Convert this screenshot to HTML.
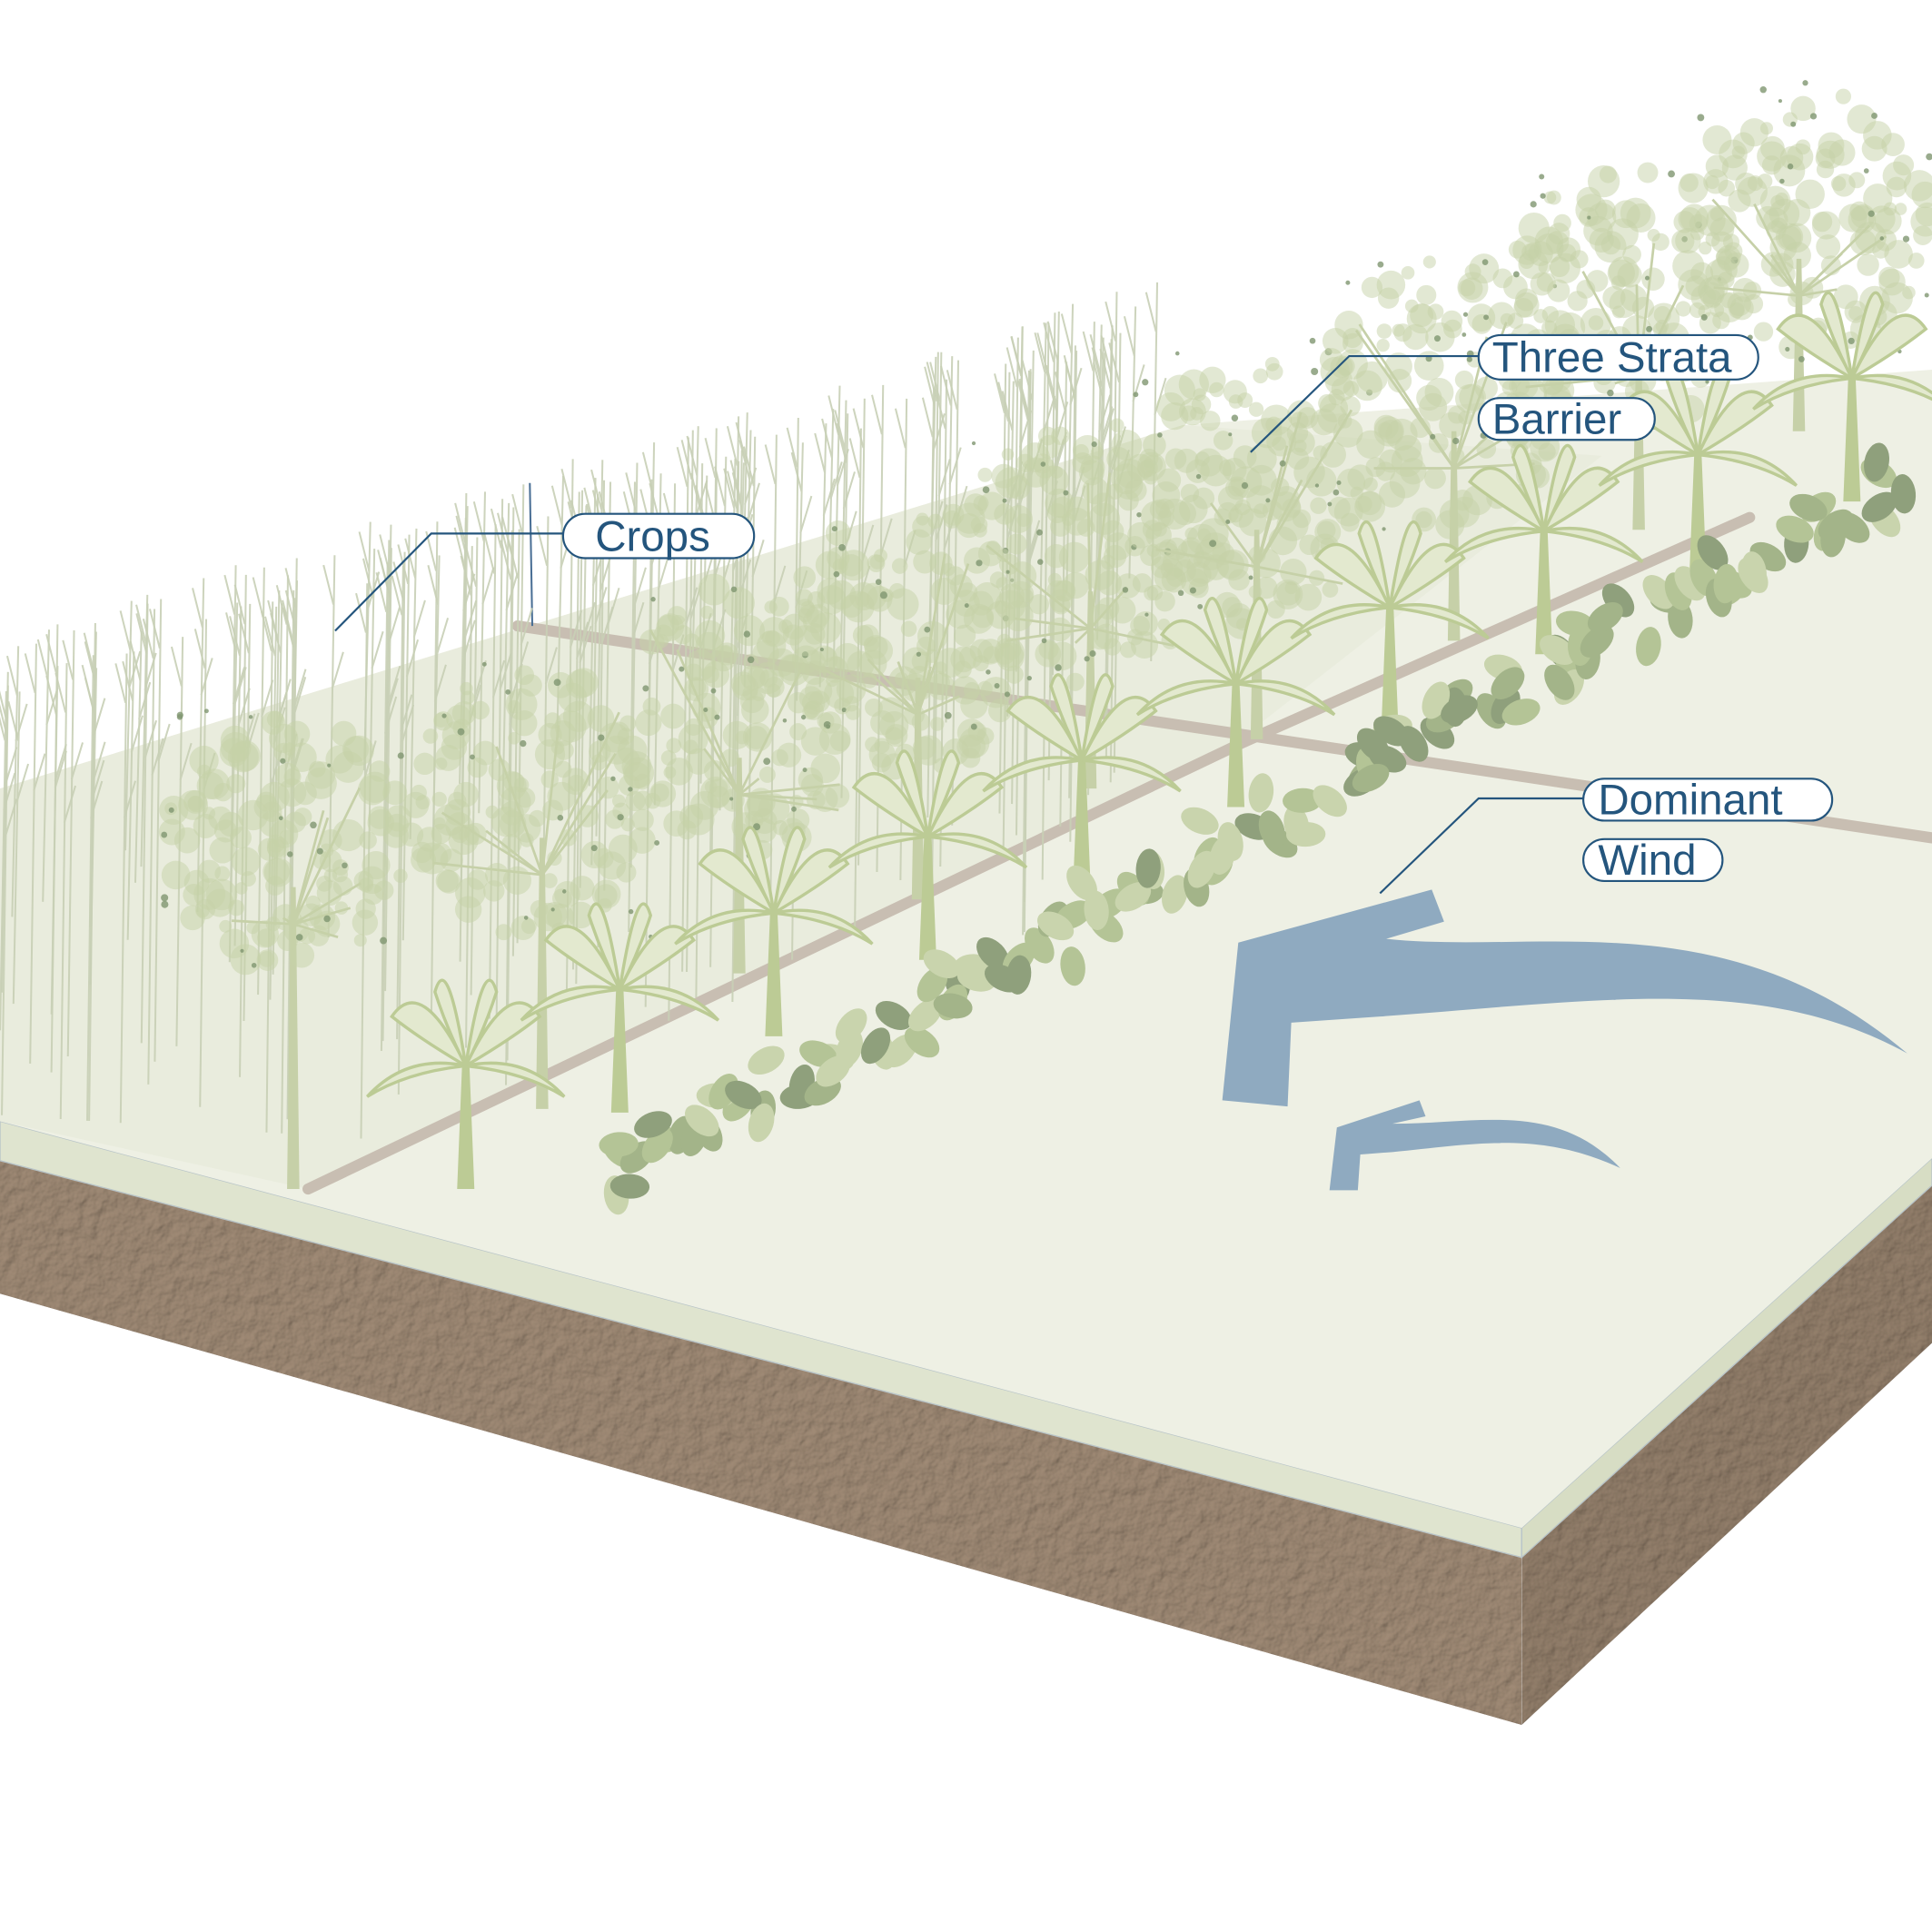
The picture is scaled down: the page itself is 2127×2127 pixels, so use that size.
<!DOCTYPE html>
<html><head><meta charset="utf-8"><style>
html,body{margin:0;padding:0;background:#fff;}
svg{display:block}
text{font-family:"Liberation Sans",sans-serif;fill:#24557d;font-size:35px}
</style></head><body>
<svg id="s" width="2127" height="2127" viewBox="0 0 1568 1568" xmlns="http://www.w3.org/2000/svg">
<defs>
<filter id="soil" x="0" y="0" width="100%" height="100%">
<feTurbulence type="fractalNoise" baseFrequency="0.09" numOctaves="3" seed="3" result="n"/>
<feDiffuseLighting in="n" surfaceScale="1.5" lighting-color="#ffffff" result="l"><feDistantLight azimuth="225" elevation="60"/></feDiffuseLighting>
<feBlend in="SourceGraphic" in2="l" mode="multiply" result="b"/>
<feComposite in="b" in2="SourceGraphic" operator="in"/>
</filter>
</defs>
<polygon points="0,940 1235,1262 1235,1400 0,1050" fill="#a08b76" filter="url(#soil)"/>
<polygon points="1235,1262 1568,960 1568,1090 1235,1400" fill="#937f6b" filter="url(#soil)"/>
<polygon points="0,910 1235,1240 1235,1264 0,942" fill="#dfe4cf" stroke="#b8c4c8" stroke-width="1"/>
<polygon points="1235,1240 1568,940 1568,962 1235,1264" fill="#d7ddc4" stroke="#b8c4c8" stroke-width="1"/>
<polygon points="0,640 960,345 1568,300 1568,940 1235,1240 0,910" fill="#eef0e4"/>
<polygon points="0,640 960,345 1300,370 1000,605 250,965 0,910" fill="#e9ecdd"/>
<g stroke="#c8beb2" stroke-width="9" fill="none" stroke-linecap="round">
<line x1="250" y1="965" x2="1010" y2="602"/>
<line x1="1010" y1="602" x2="1420" y2="420"/>
<line x1="420" y1="508" x2="1568" y2="680"/>
</g>
<line x1="430" y1="392" x2="432" y2="508" stroke="#4a6f95" stroke-width="1.5"/>
<g id="crops"></g>
<g id="trees"></g>
<g id="ban"></g>
<g id="leaves"></g>
<path d="M992,893 L1005,765 L1162,722 L1172,748 L1125,762 C1250,775 1400,730 1548,855 C1430,790 1300,812 1120,825 L1048,830 L1045,898 Z" fill="#8faac0"/>
<path d="M1079,966 L1085,915 L1152,893 L1157,906 L1130,912 C1200,912 1262,893 1315,948 C1250,918 1200,928 1130,935 L1104,937 L1102,966 Z" fill="#8faac0"/>
<g fill="none" stroke="#24557d" stroke-width="1.6">
<polyline points="272,512 350,433 457,433"/>
<polyline points="1015,367 1095,289 1200,289"/>
<polyline points="1120,725 1200,648 1285,648"/>
</g>
<g fill="#fff" stroke="#24557d" stroke-width="1.6">
<rect x="457" y="417" width="155" height="36" rx="18"/>
<rect x="1200" y="272" width="227" height="36" rx="18"/>
<rect x="1200" y="323" width="143" height="34" rx="17"/>
<rect x="1285" y="632" width="202" height="34" rx="17"/>
<rect x="1285" y="681" width="113" height="34" rx="17"/>
</g>
<text x="483" y="447">Crops</text>
<text x="1211" y="302">Three Strata</text>
<text x="1211" y="352">Barrier</text>
<text x="1297" y="661">Dominant</text>
<text x="1297" y="710">Wind</text>
</svg>
<script>
(function(){
var NS="http://www.w3.org/2000/svg";var seed=7;function r(){seed=(seed*16807)%2147483647;return seed/2147483647;}
function el(p,t,a){var e=document.createElementNS(NS,t);for(var k in a)e.setAttribute(k,a[k]);p.appendChild(e);return e;}
var cr=document.getElementById("crops");
for(var i=0;i<150;i++){var x=r()*940;var tp=540-x*0.31+(r()*50-25);var yb=tp+200+r()*260;
 yb=Math.min(yb,905+x*0.065);
 var g=el(cr,"g",{stroke:"#c8d0b6","stroke-width":1.5,opacity:0.9});
 el(g,"line",{x1:x,y1:yb,x2:x+5,y2:tp});
 var my=tp+(yb-tp)*0.35;
 el(g,"line",{x1:x+3,y1:my,x2:x+12,y2:my-30});
 el(g,"line",{x1:x+4,y1:tp+40,x2:x-4,y2:tp+8});}
var tr=document.getElementById("trees");
var tpos=[[238,965,230,690],[440,900,430,650],[600,790,600,585],[745,730,740,520],[885,640,880,450],[1020,600,1020,400],[1180,520,1170,320],[1330,430,1320,245],[1460,350,1465,180]];
tpos.forEach(function(t){var x=t[0],y=t[1],cx0=t[2],cy0=t[3];
 el(tr,"path",{d:"M"+(x-5)+","+y+" L"+(x-2)+","+(cy0+30)+" L"+(x+2)+","+(cy0+30)+" L"+(x+5)+","+y+"Z",fill:"#c6d0a8"});
 for(var j=0;j<8;j++){el(tr,"line",{x1:x,y1:cy0+60,x2:cx0+(r()-0.5)*170,y2:cy0+(r()-0.5)*150,stroke:"#c6d0a8","stroke-width":2});}
 for(var j=0;j<130;j++){var a=r()*6.283,d=Math.sqrt(r());el(tr,"circle",{cx:cx0+Math.cos(a)*d*100,cy:cy0+Math.sin(a)*d*110,r:5+r()*8,fill:"#c6d1a8",opacity:0.5});}
 for(var j=0;j<20;j++){el(tr,"circle",{cx:cx0+(r()-0.5)*210,cy:cy0+(r()-0.5)*230,r:1.5+r()*1.5,fill:"#7f9670",opacity:0.8});}
});
var bn=document.getElementById("ban");
for(var i=0;i<10;i++){var x=378+i*125,y=965-i*62,h=100;
 el(bn,"path",{d:"M"+(x-7)+","+y+" L"+(x-3)+","+(y-h)+" L"+(x+3)+","+(y-h)+" L"+(x+7)+","+y+"Z",fill:"#bccb95"});
 [[-80,25],[-60,-40],[60,-40],[80,25],[-25,-60],[25,-60]].forEach(function(d){
 var ex=x+d[0],ey=y-h+d[1];
 el(bn,"path",{d:"M"+x+","+(y-h)+" Q"+(x+d[0]*0.6)+","+(y-h+d[1]-35)+" "+ex+","+ey+" Q"+(x+d[0]*0.6)+","+(y-h+d[1]*0.4-5)+" "+x+","+(y-h)+"Z",fill:"#e3e9cf",stroke:"#bccb95","stroke-width":2.5});});
}
var lv=document.getElementById("leaves");var cols=["#8fa07c","#b4c496","#c9d4ad","#a3b489"];
for(var i=0;i<45;i++){var x=500+i*23.5,y=955-i*12.8;
 for(var j=0;j<3;j++){var cx=x+(r()-0.5)*44,cy=y+(r()-0.5)*44;
 el(lv,"ellipse",{cx:cx,cy:cy,rx:16,ry:10,fill:cols[Math.floor(r()*4)],transform:"rotate("+(r()*180)+" "+cx+" "+cy+")"});}
}
})();
</script>
</body></html>
